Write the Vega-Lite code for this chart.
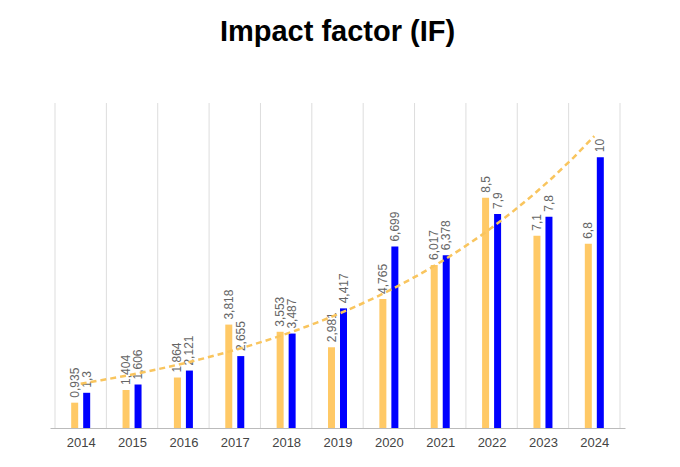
{
  "$schema": "https://vega.github.io/schema/vega-lite/v6.json",
  "autosize": "none",
  "width": 575,
  "height": 325,
  "padding": {"left": 50, "top": 103, "right": 55, "bottom": 39},
  "config": {
    "view": {"stroke": null},
    "font": "Liberation Sans",
    "locale": {"number": {"decimal": ",", "thousands": ".", "grouping": [3], "currency": ["", ""]}}
  },
  "title": {"text": "Impact factor (IF)", "fontSize": 29, "fontWeight": "bold", "color": "#000", "offset": 56, "anchor": "middle"},
  "data": {
    "values": [
      {"year": 2014, "orange": 0.935, "blue": 1.3},
      {"year": 2015, "orange": 1.404, "blue": 1.606},
      {"year": 2016, "orange": 1.864, "blue": 2.121},
      {"year": 2017, "orange": 3.818, "blue": 2.655},
      {"year": 2018, "orange": 3.553, "blue": 3.487},
      {"year": 2019, "orange": 2.981, "blue": 4.417},
      {"year": 2020, "orange": 4.765, "blue": 6.699},
      {"year": 2021, "orange": 6.017, "blue": 6.378},
      {"year": 2022, "orange": 8.5, "blue": 7.9},
      {"year": 2023, "orange": 7.1, "blue": 7.8},
      {"year": 2024, "orange": 6.8, "blue": 10}
    ]
  },
  "encoding": {
    "x": {"field": "year", "type": "quantitative", "scale": {"domain": [2013.5, 2024.5], "nice": false, "zero": false},
      "axis": {"values": [2014, 2015, 2016, 2017, 2018, 2019, 2020, 2021, 2022, 2023, 2024], "format": "d", "title": null, "grid": false, "ticks": false, "domainColor": "#bbb", "labelColor": "#444", "labelFontSize": 13, "labelPadding": 8}},
    "y": {"type": "quantitative", "scale": {"domain": [0, 12]}, "axis": null}
  },
  "layer": [
    {
      "data": {"values": [{"b": 2013.5}, {"b": 2014.5}, {"b": 2015.5}, {"b": 2016.5}, {"b": 2017.5}, {"b": 2018.5}, {"b": 2019.5}, {"b": 2020.5}, {"b": 2021.5}, {"b": 2022.5}, {"b": 2023.5}, {"b": 2024.5}]},
      "mark": {"type": "rule", "color": "#ddd", "strokeWidth": 1},
      "encoding": {"x": {"field": "b", "type": "quantitative"}, "y": {"value": 0}, "y2": {"value": 325}}
    },
    {
      "mark": {"type": "bar", "color": "#FFC966", "width": 7, "xOffset": -6},
      "encoding": {"y": {"field": "orange", "type": "quantitative"}}
    },
    {
      "mark": {"type": "bar", "color": "#0000FF", "width": 7, "xOffset": 6},
      "encoding": {"y": {"field": "blue", "type": "quantitative"}}
    },
    {
      "mark": {"type": "text", "angle": -90, "align": "left", "baseline": "middle", "xOffset": -6, "dx": 5, "color": "#666", "fontSize": 12},
      "encoding": {"y": {"field": "orange", "type": "quantitative"}, "text": {"field": "orange", "type": "quantitative", "format": "~r"}}
    },
    {
      "mark": {"type": "text", "angle": -90, "align": "left", "baseline": "middle", "xOffset": 6, "dx": 5, "color": "#666", "fontSize": 12},
      "encoding": {"y": {"field": "blue", "type": "quantitative"}, "text": {"field": "blue", "type": "quantitative", "format": "~r"}}
    },
    {
      "transform": [{"regression": "blue", "on": "year", "method": "exp", "extent": [2014, 2024]}],
      "mark": {"type": "line", "color": "#F9C55E", "strokeWidth": 2.5, "strokeDash": [6, 4]},
      "encoding": {"y": {"field": "blue", "type": "quantitative"}}
    }
  ]
}
